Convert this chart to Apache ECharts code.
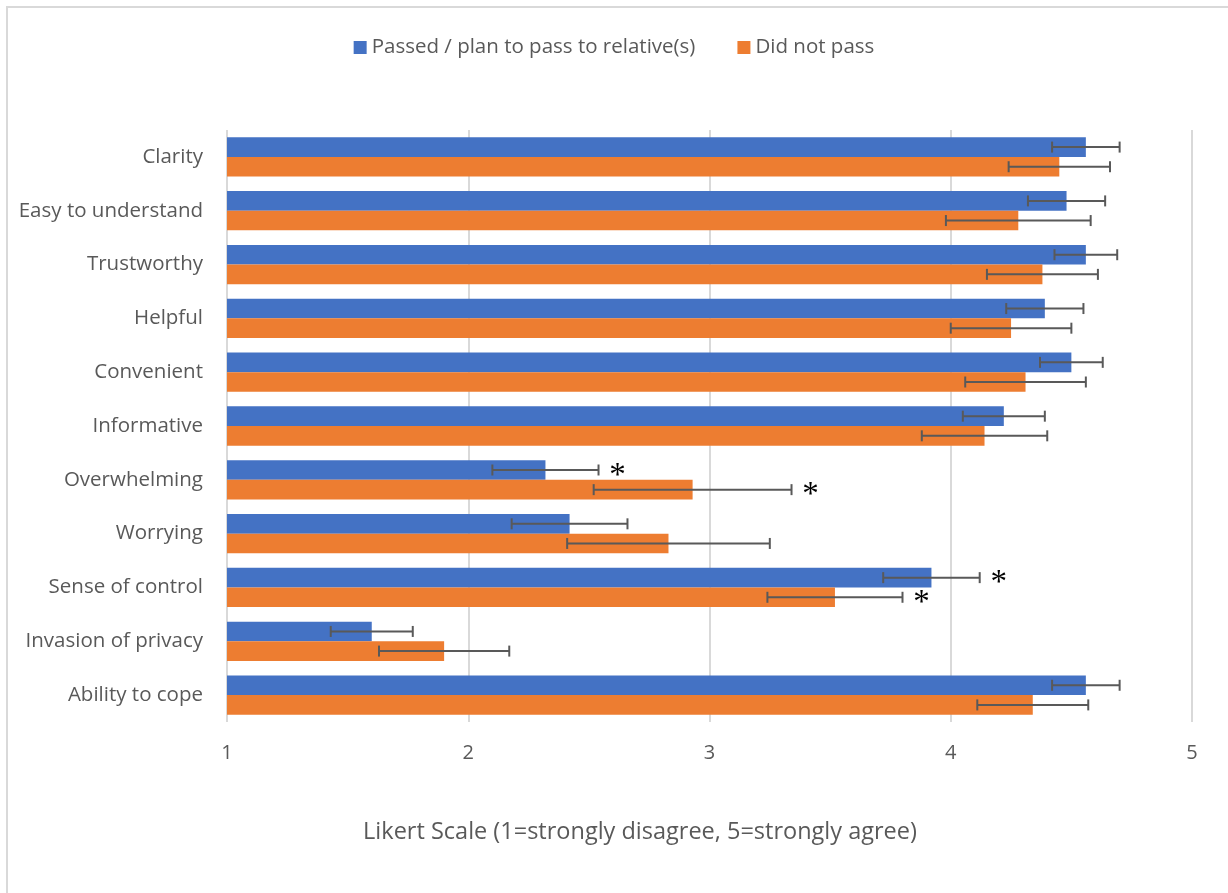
<!DOCTYPE html>
<html>
<head>
<meta charset="utf-8">
<script src="https://cdn.jsdelivr.net/npm/echarts@6/dist/echarts.min.js"></script>
<style>
  html, body { margin: 0; padding: 0; background: #fff; }
  .frame {
    position: absolute;
    left: 6px;
    top: 6px;
    width: 1222px;
    height: 887px;
    border-top: 2px solid #d9d9d9;
    border-left: 2px solid #d9d9d9;
  }
  #chart { position: absolute; left: 0; top: 0; width: 1228px; height: 893px; }
</style>
</head>
<body>
<div class="frame"></div>
<div id="chart"></div>
<script>
const categories = [
  "Clarity", "Easy to understand", "Trustworthy", "Helpful", "Convenient",
  "Informative", "Overwhelming", "Worrying", "Sense of control",
  "Invasion of privacy", "Ability to cope"
];
const passedMean = [4.56, 4.48, 4.56, 4.39, 4.50, 4.22, 2.32, 2.42, 3.92, 1.60, 4.56];
const passedErr = [0.14, 0.16, 0.13, 0.16, 0.13, 0.17, 0.22, 0.24, 0.20, 0.17, 0.14];
const notPassedMean = [4.45, 4.28, 4.38, 4.25, 4.31, 4.14, 2.93, 2.83, 3.52, 1.90, 4.34];
const notPassedErr = [0.21, 0.30, 0.23, 0.25, 0.25, 0.26, 0.41, 0.42, 0.28, 0.27, 0.23];
// 1 = marked with an asterisk
const passedSig = [0, 0, 0, 0, 0, 0, 1, 0, 1, 0, 0];
const notPassedSig = [0, 0, 0, 0, 0, 0, 1, 0, 1, 0, 0];
const xTicks = [1, 2, 3, 4, 5];

const FONT = "'Open Sans', sans-serif";
const GREY = "#595959";
const CAT_GAP = 0.27;

const myChart = echarts.init(document.getElementById("chart"));

// slot 0 = upper bar in the band, slot 1 = lower bar
const errorBars = (means, errs, sigs, slot) => {
  return {
    type: "custom",
    z: 10,
    silent: true,
    data: means.map((m, i) => [i, m, errs[i], sigs[i]]),
    encode: { x: 1, y: 0 },
    renderItem: (params, api) => {
      const cat = api.value(0);
      const mean = api.value(1);
      const err = api.value(2);
      const band = api.size([0, 1])[1];
      const barW = (band * (1 - CAT_GAP)) / 2;
      const center = api.coord([mean, cat]);
      const y = center[1] + (slot === 0 ? -barW / 2 : barW / 2);
      const left = api.coord([mean - err, cat])[0];
      const right = api.coord([mean + err, cat])[0];
      const cap = 5.5;
      const style = { stroke: GREY, lineWidth: 2 };
      const children = [
        { type: "line", shape: { x1: left, y1: y, x2: right, y2: y }, style },
        { type: "line", shape: { x1: left, y1: y - cap, x2: left, y2: y + cap }, style },
        { type: "line", shape: { x1: right, y1: y - cap, x2: right, y2: y + cap }, style }
      ];
      if (api.value(3) === 1) {
        children.push({
          type: "text",
          style: {
            text: "*",
            x: right + 19,
            y: y + 6,
            align: "center",
            verticalAlign: "middle",
            fontSize: 33,
            fontFamily: "'Liberation Serif', serif",
            fill: "#000"
          }
        });
      }
      return { type: "group", children };
    }
  };
};

const option = {
  animation: false,
  color: ["#4472C4", "#ED7D31"],
  legend: {
    top: 32,
    left: "center",
    itemWidth: 13,
    itemHeight: 13,
    itemGap: 42,
    icon: "rect",
    textStyle: { color: GREY, fontSize: 20.5, fontFamily: FONT },
    data: ["Passed / plan to pass to relative(s)", "Did not pass"]
  },
  // axis title sits centred on the chart area, not on the plot
  graphic: [
    {
      type: "text",
      x: 640,
      y: 832,
      style: {
        text: "Likert Scale (1=strongly disagree, 5=strongly agree)",
        align: "center",
        verticalAlign: "middle",
        fill: GREY,
        fontSize: 23.5,
        fontFamily: FONT
      }
    }
  ],
  grid: {
    left: 227,
    right: 36,
    top: 130,
    bottom: 171
  },
  xAxis: {
    type: "value",
    min: xTicks[0],
    max: xTicks[xTicks.length - 1],
    interval: 1,
    axisLine: { show: false },
    axisTick: { show: false },
    axisLabel: { color: GREY, fontSize: 20, fontFamily: FONT, margin: 21 },
    splitLine: { show: true, lineStyle: { color: "#d9d9d9", width: 2 } }
  },
  yAxis: {
    type: "category",
    inverse: true,
    data: categories,
    axisLine: { show: false },
    axisTick: { show: false },
    axisLabel: { color: GREY, fontSize: 20.5, fontFamily: FONT, margin: 24 }
  },
  series: [
    {
      name: "Passed / plan to pass to relative(s)",
      type: "bar",
      barGap: "0%",
      barCategoryGap: CAT_GAP * 100 + "%",
      data: passedMean
    },
    {
      name: "Did not pass",
      type: "bar",
      barGap: "0%",
      barCategoryGap: CAT_GAP * 100 + "%",
      data: notPassedMean
    },
    errorBars(passedMean, passedErr, passedSig, 0),
    errorBars(notPassedMean, notPassedErr, notPassedSig, 1)
  ]
};

myChart.setOption(option);
</script>
</body>
</html>
